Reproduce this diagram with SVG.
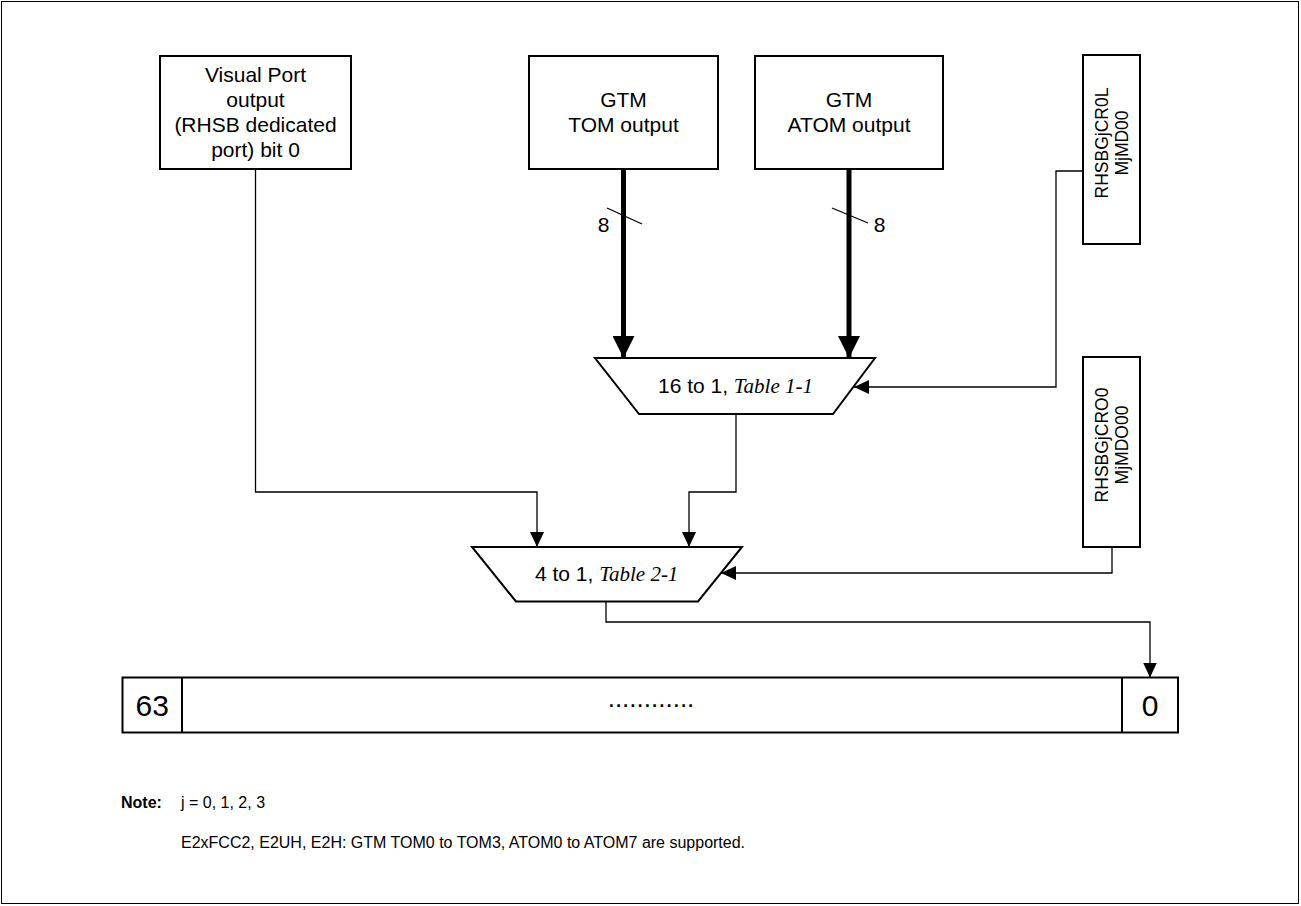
<svg xmlns="http://www.w3.org/2000/svg" width="1301" height="906" viewBox="0 0 1301 906">
<style>
.box{fill:#fff;stroke:#000;stroke-width:2}
.t{font-family:"Liberation Sans",Arial,sans-serif;font-size:21px;fill:#000;text-anchor:middle}
.it{font-family:"Liberation Serif","Times New Roman",serif;font-style:italic}
.rt{font-family:"Liberation Sans",Arial,sans-serif;font-size:17.5px;fill:#000;text-anchor:middle}
.reg{font-family:"Liberation Sans",Arial,sans-serif;font-size:30px;fill:#000;text-anchor:middle}
.note{font-family:"Liberation Sans",Arial,sans-serif;font-size:16px;fill:#000}
.ln{fill:none;stroke:#000;stroke-width:1.3}
.bus{fill:none;stroke:#000;stroke-width:5}
</style>
<defs>
<marker id="a" viewBox="0 0 15 14" refX="15" refY="7" markerWidth="15" markerHeight="14" markerUnits="userSpaceOnUse" orient="auto"><path d="M0,0 L15,7 L0,14 z" fill="#000"/></marker>
<marker id="ab" viewBox="0 0 22 22" refX="22" refY="11" markerWidth="22" markerHeight="22" markerUnits="userSpaceOnUse" orient="auto"><path d="M0,0 L22,11 L0,22 z" fill="#000"/></marker>
</defs>
<rect x="1.5" y="1.5" width="1297" height="902" fill="#fff" stroke="#000" stroke-width="1"/>

<g id="connectors">
<path class="ln" d="M255.5,169 V492 H537 V547" marker-end="url(#a)"/>
<path class="bus" d="M623.5,169 V358" marker-end="url(#ab)"/>
<path class="bus" d="M849,169 V358" marker-end="url(#ab)"/>
<path class="ln" d="M1083,171 H1056 V387 H854" marker-end="url(#a)"/>
<path class="ln" d="M736,414 V492 H689 V547" marker-end="url(#a)"/>
<path class="ln" d="M1112,547 V573 H721" marker-end="url(#a)"/>
<path class="ln" d="M606,601 V622 H1150 V677.5" marker-end="url(#a)"/>
<line class="ln" x1="607" y1="208" x2="642" y2="224"/>
<line class="ln" x1="832" y1="208" x2="868" y2="223"/>
<text class="t" x="603.5" y="232">8</text>
<text class="t" x="879.5" y="232">8</text>
</g>

<g id="visual-port">
<rect class="box" x="160" y="56" width="191" height="113"/>
<text class="t" x="255.5" y="81.7">Visual Port</text>
<text class="t" x="255.5" y="106.7">output</text>
<text class="t" x="255.5" y="131.7">(RHSB dedicated</text>
<text class="t" x="255.5" y="156.7">port) bit 0</text>
</g>

<g id="gtm-tom">
<rect class="box" x="529" y="56" width="189" height="113"/>
<text class="t" x="623.5" y="106.7">GTM</text>
<text class="t" x="623.5" y="131.7">TOM output</text>
</g>

<g id="gtm-atom">
<rect class="box" x="755" y="56" width="188" height="113"/>
<text class="t" x="849" y="106.7">GTM</text>
<text class="t" x="849" y="131.7">ATOM output</text>
</g>

<g id="reg-cr0l">
<rect class="box" x="1083" y="55" width="57" height="189"/>
<text class="rt" transform="translate(1108,143) rotate(-90)" x="0" y="0">RHSBGjCR0L</text>
<text class="rt" transform="translate(1128,143) rotate(-90)" x="0" y="0">MjMD00</text>
</g>

<g id="reg-cro0">
<rect class="box" x="1083" y="357" width="57" height="190"/>
<text class="rt" transform="translate(1108,445) rotate(-90)" x="0" y="0">RHSBGjCRO0</text>
<text class="rt" transform="translate(1128,445) rotate(-90)" x="0" y="0">MjMDO00</text>
</g>

<g id="mux16">
<path class="box" d="M595,358 H875 L833,414 H639 Z"/>
<text class="t" x="735.5" y="393">16 to 1, <tspan class="it">Table 1-1</tspan></text>
</g>

<g id="mux4">
<path class="box" d="M472,547 H742 L698,601.5 H516 Z"/>
<text class="t" x="606.7" y="581">4 to 1, <tspan class="it">Table 2-1</tspan></text>
</g>

<g id="register">
<rect class="box" x="122.5" y="677.5" width="1055.5" height="55"/>
<line x1="182" y1="677.5" x2="182" y2="732.5" stroke="#000" stroke-width="2"/>
<line x1="1122" y1="677.5" x2="1122" y2="732.5" stroke="#000" stroke-width="2"/>
<text class="reg" x="152.3" y="716">63</text>
<text class="reg" x="1150" y="716">0</text>
<text class="reg" x="651" y="707" style="font-size:26px">............</text>
</g>

<g id="note">
<text class="note" x="121" y="808" style="font-weight:bold">Note:</text>
<text class="note" x="181" y="808">j = 0, 1, 2, 3</text>
<text class="note" x="181" y="848">E2xFCC2, E2UH, E2H: GTM TOM0 to TOM3, ATOM0 to ATOM7 are supported.</text>
</g>
</svg>
